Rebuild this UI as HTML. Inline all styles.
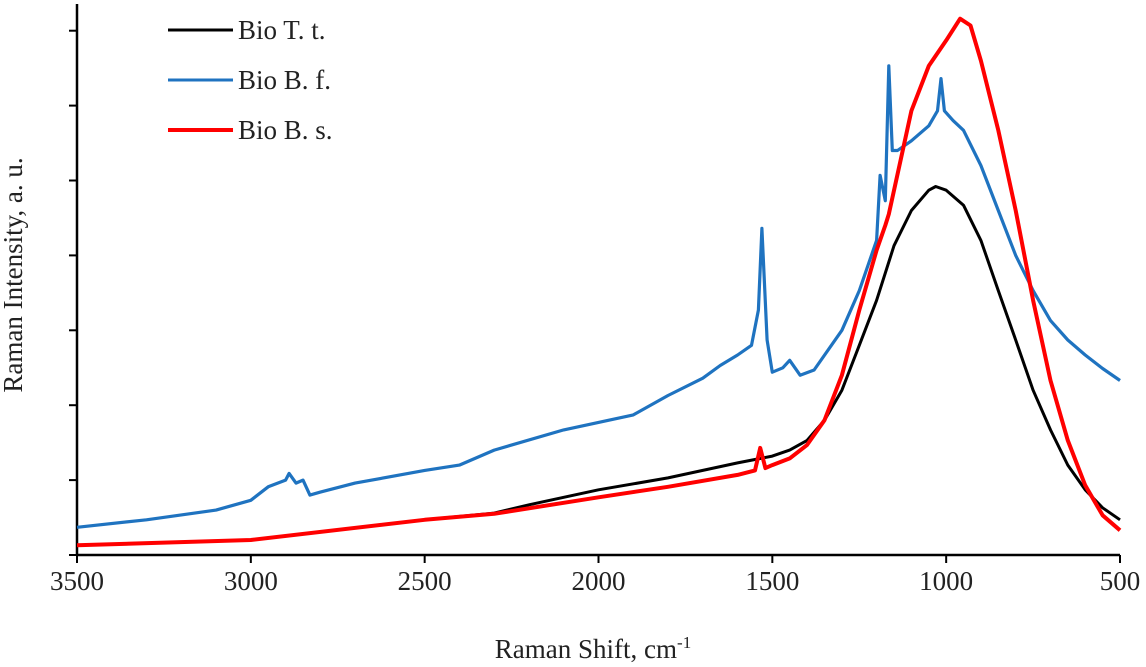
<!DOCTYPE html>
<html><head><meta charset="utf-8"><style>
html,body{margin:0;padding:0;background:#fff;}
svg{display:block;font-family:"Liberation Serif",serif;}
</style></head><body>
<svg id="chart" width="1146" height="667">
<g id="axes"></g><g id="series"></g><g id="legend"></g>
</svg>
<script>
const xTicks=[3500,3000,2500,2000,1500,1000,500];
const yTicks=[0,1,2,3,4,5,6,7];
const blackX=[3500,3000,2500,2300,2200,2000,1800,1600,1500,1450,1400,1350,1300,1250,1200,1150,1100,1050,1030,1000,950,900,850,800,750,700,650,600,550,500];
const blackY=[0.13,0.2,0.47,0.56,0.67,0.87,1.03,1.23,1.32,1.4,1.53,1.8,2.2,2.8,3.4,4.13,4.6,4.87,4.92,4.87,4.67,4.2,3.53,2.87,2.2,1.67,1.2,0.87,0.63,0.47];
const redX=[3500,3000,2500,2300,2000,1800,1600,1550,1535,1520,1500,1450,1400,1350,1300,1250,1200,1175,1165,1100,1050,1000,960,930,900,850,800,750,700,650,600,550,500];
const redY=[0.13,0.2,0.47,0.55,0.77,0.91,1.07,1.13,1.43,1.16,1.2,1.29,1.47,1.8,2.4,3.27,4.07,4.4,4.55,5.93,6.53,6.87,7.16,7.07,6.6,5.67,4.6,3.4,2.33,1.53,0.93,0.53,0.33];
const blueX=[3500,3300,3100,3000,2950,2900,2890,2870,2850,2830,2800,2700,2500,2400,2300,2100,2000,1900,1800,1700,1650,1600,1560,1540,1530,1515,1500,1470,1450,1420,1380,1300,1250,1200,1190,1175,1165,1155,1140,1100,1050,1025,1015,1005,980,950,900,850,800,750,700,650,600,550,500];
const blueY=[0.37,0.47,0.6,0.73,0.91,1.0,1.09,0.96,1.0,0.8,0.84,0.96,1.13,1.2,1.4,1.67,1.77,1.87,2.13,2.36,2.53,2.67,2.8,3.27,4.36,2.87,2.44,2.5,2.6,2.4,2.47,3.0,3.53,4.2,5.07,4.73,6.53,5.4,5.4,5.53,5.73,5.93,6.36,5.93,5.8,5.67,5.2,4.6,4.0,3.53,3.13,2.87,2.67,2.49,2.33];
const NS="http://www.w3.org/2000/svg";
const X0=77,X1=1120,Y0=555,YS=74.9;
function sx(v){return X0+(3500-v)*(X1-X0)/3000;}
function sy(v){return Y0-v*YS;}
function mk(t,a,p){const e=document.createElementNS(NS,t);for(const k in a)e.setAttribute(k,a[k]);p.appendChild(e);return e;}
const axes=document.getElementById('axes');
let e=mk('line',{x1:X0,y1:4,x2:X0,y2:Y0,stroke:'#000','stroke-width':2.5},axes);


e=mk('line',{x1:X0,y1:Y0,x2:X1,y2:Y0,stroke:'#000','stroke-width':2.5},axes);


yTicks.forEach(v=>{const t=mk('line',{x1:X0-8,y1:sy(v),x2:X0,y2:sy(v),stroke:'#000','stroke-width':2},axes);

});
xTicks.forEach(v=>{const t=mk('line',{x1:sx(v),y1:Y0,x2:sx(v),y2:Y0+8,stroke:'#000','stroke-width':2},axes);


const l=mk('text',{x:sx(v),y:590,'text-anchor':'middle','font-size':27,fill:'#222'},axes);l.textContent=v;

});
e=mk('text',{x:593,y:658,'text-anchor':'middle','font-size':27,fill:'#222'},axes);
e.innerHTML='Raman Shift, cm<tspan dy="-10" font-size="17">-1</tspan>';


e=mk('text',{x:0,y:0,'text-anchor':'middle','font-size':27,fill:'#222',transform:'translate(22,275) rotate(-90)'},axes);
e.textContent='Raman Intensity,  a. u.';


const ser=document.getElementById('series');
function line(xs,ys,c,w,name){const d=xs.map((x,i)=>(i?'L':'M')+sx(x).toFixed(1)+','+sy(ys[i]).toFixed(1)).join('');
const p=mk('path',{d:d,fill:'none',stroke:c,'stroke-width':w,'stroke-linejoin':'round'},ser);

}
line(blueX,blueY,'#1f73c0',3.2,'series-bio-bf');
line(blackX,blackY,'#000',3,'series-bio-tt');
line(redX,redY,'#f00',4,'series-bio-bs');
const leg=document.getElementById('legend');
[['Bio T. t.','#000',3,30],['Bio B. f.','#1f73c0',3,80],['Bio B. s.','#f00',4,130]].forEach(r=>{
const g=mk('g',{},leg);


mk('line',{x1:168,y1:r[3],x2:233,y2:r[3],stroke:r[1],'stroke-width':r[2]},g);
const t=mk('text',{x:238,y:r[3]+9,'font-size':27,fill:'#222'},g);t.textContent=r[0];});
</script>
</body></html>
